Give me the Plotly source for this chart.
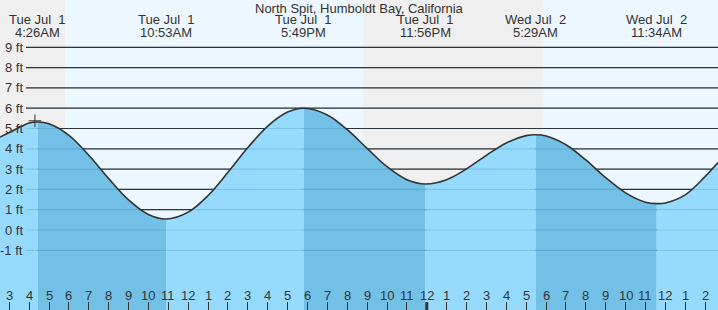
import plotly.graph_objects as go

# ---------------- data (hours since midnight, Tue Jul 1) ----------------
title = "North Spit, Humboldt Bay, California"

# tide heights (ft)
tide_hours = [2.532, 3, 4, 4.433, 5, 6, 7, 8, 9, 10, 10.883, 12, 13, 14, 15, 16, 17,
              17.817, 19, 20, 21, 22, 23, 23.933, 25, 26, 27, 28, 29, 29.483,
              30, 31, 32, 33, 34, 35, 35.567, 36, 37, 38, 38.65]
tide_ft = [4.58, 4.80, 5.27, 5.32, 5.23, 4.66, 3.68, 2.53, 1.48, 0.76, 0.54, 0.88, 1.70,
           2.84, 4.06, 5.12, 5.81, 6.00, 5.67, 4.94, 4.02, 3.12, 2.48, 2.27, 2.48,
           3.01, 3.68, 4.29, 4.65, 4.69, 4.63, 4.20, 3.45, 2.58, 1.83, 1.37, 1.30,
           1.33, 1.73, 2.63, 3.32]

# high / low tide events
event_hours = [4.433, 10.883, 17.817, 23.933, 29.483, 35.567]
event_day = ["Tue Jul  1", "Tue Jul  1", "Tue Jul  1", "Tue Jul  1", "Wed Jul  2", "Wed Jul  2"]
event_time = ["4:26AM", "10:53AM", "5:49PM", "11:56PM", "5:29AM", "11:34AM"]

# night periods (sunset -> sunrise)
night_start = [2.532, 20.80]
night_end = [5.80, 29.83]

# "now" marker
now_hour = [4.29]
now_ft = [5.38]

# axes
x_ticks = [3, 4, 5, 6, 7, 8, 9, 10, 11, 12, 13, 14, 15, 16, 17, 18, 19, 20, 21, 22,
           23, 24, 25, 26, 27, 28, 29, 30, 31, 32, 33, 34, 35, 36, 37, 38]
x_labels = ["3", "4", "5", "6", "7", "8", "9", "10", "11", "12", "1", "2", "3", "4",
            "5", "6", "7", "8", "9", "10", "11", "12", "1", "2", "3", "4", "5", "6",
            "7", "8", "9", "10", "11", "12", "1", "2"]
midnight = [24]
y_ticks = [9, 8, 7, 6, 5, 4, 3, 2, 1, 0, -1]
y_labels = ["9 ft", "8 ft", "7 ft", "6 ft", "5 ft", "4 ft", "3 ft", "2 ft", "1 ft", "0 ft", "-1 ft"]

# ---------------- style ----------------
FONT = "Liberation Sans, Arial, sans-serif"
TXT = "#333333"
DAY = "#ecf7ff"
NIGHT = "#efefef"
LIGHT = "#96dbfe"
DARK = "#72c0e6"
X_RANGE = [tide_hours[0], tide_hours[-1]]
Y_RANGE = [-3.94, 11.33]
BASE = -6

fig = go.Figure()

# split curve into segments at the high/low events
idx = [0] + [tide_hours.index(h) for h in event_hours] + [len(tide_hours) - 1]
for k in range(len(idx) - 1):
    a, b = idx[k], idx[k + 1]
    xs = tide_hours[a:b + 1]
    ys = tide_ft[a:b + 1]
    # falling tide (high -> low) is drawn darker
    falling = ys[0] > ys[-1] and k > 0
    col = DARK if falling else LIGHT
    fig.add_trace(go.Scatter(x=xs, y=[BASE] * len(xs), mode="lines",
                             line=dict(width=0, color=col), hoverinfo="skip",
                             showlegend=False))
    fig.add_trace(go.Scatter(x=xs, y=ys, mode="lines", fill="tonexty",
                             fillcolor=col, line=dict(width=0, color=col, shape="spline"),
                             hoverinfo="skip", showlegend=False))

fig.add_trace(go.Scatter(x=tide_hours, y=tide_ft, mode="lines",
                         line=dict(color="#333333", width=1.6, shape="spline"),
                         showlegend=False))
fig.add_trace(go.Scatter(x=now_hour, y=now_ft, mode="markers",
                         marker=dict(symbol="cross-thin", size=9,
                                     line=dict(color="#333333", width=1)),
                         showlegend=False))

shapes = []
for s, e in zip(night_start, night_end):
    shapes.append(dict(type="rect", xref="x", yref="paper", x0=s, x1=e, y0=0, y1=1,
                       fillcolor=NIGHT, line=dict(width=0), layer="below"))
for v in y_ticks:
    shapes.append(dict(type="line", xref="paper", yref="y", x0=26 / 718, x1=1, y0=v, y1=v,
                       line=dict(color="#333333", width=1.2), layer="below"))
for v in y_ticks:
    shapes.append(dict(type="line", xref="paper", yref="y", x0=26 / 718, x1=1, y0=v, y1=v,
                       line=dict(color="rgba(0,70,120,0.16)", width=1.2), layer="above"))
for m in midnight:
    shapes.append(dict(type="line", xref="x", yref="paper", x0=m, x1=m, y0=0, y1=8 / 310,
                       line=dict(color="#333333", width=3), layer="above"))

ann = [dict(text=title, x=0.5, xref="paper", y=1 - 8.5 / 310, yref="paper",
            showarrow=False, xanchor="center", yanchor="middle",
            font=dict(family=FONT, size=13, color=TXT))]
for h, d, t in zip(event_hours, event_day, event_time):
    ann.append(dict(text=d, x=h, xref="x", y=1 - 19.5 / 310, yref="paper", showarrow=False,
                    xanchor="center", yanchor="middle", font=dict(family=FONT, size=13, color=TXT)))
    ann.append(dict(text=t, x=h, xref="x", y=1 - 32 / 310, yref="paper", showarrow=False,
                    xanchor="center", yanchor="middle", font=dict(family=FONT, size=13, color=TXT)))
for v, lab in zip(y_ticks, y_labels):
    ann.append(dict(text=lab, x=24.5 / 718, xref="paper", y=v, yref="y", showarrow=False,
                    xanchor="right", yanchor="middle", font=dict(family=FONT, size=13, color=TXT)))
for v, lab in zip(x_ticks, x_labels):
    ann.append(dict(text=lab, x=v, xref="x", y=14.5 / 310, yref="paper", showarrow=False,
                    xanchor="center", yanchor="middle", font=dict(family=FONT, size=13, color=TXT)))

fig.update_layout(
    width=718, height=310, margin=dict(l=0, r=0, t=0, b=0),
    paper_bgcolor="white", plot_bgcolor=DAY,
    shapes=shapes, annotations=ann, showlegend=False,
    xaxis=dict(range=X_RANGE, tickvals=x_ticks, ticktext=[""] * len(x_ticks),
               ticks="inside", ticklen=8, tickwidth=1, tickcolor="#333333",
               showgrid=False, zeroline=False, showline=False, fixedrange=True),
    yaxis=dict(range=Y_RANGE, showticklabels=False, ticks="", showgrid=False,
               zeroline=False, showline=False, fixedrange=True),
)

fig.write_html("out.html")
